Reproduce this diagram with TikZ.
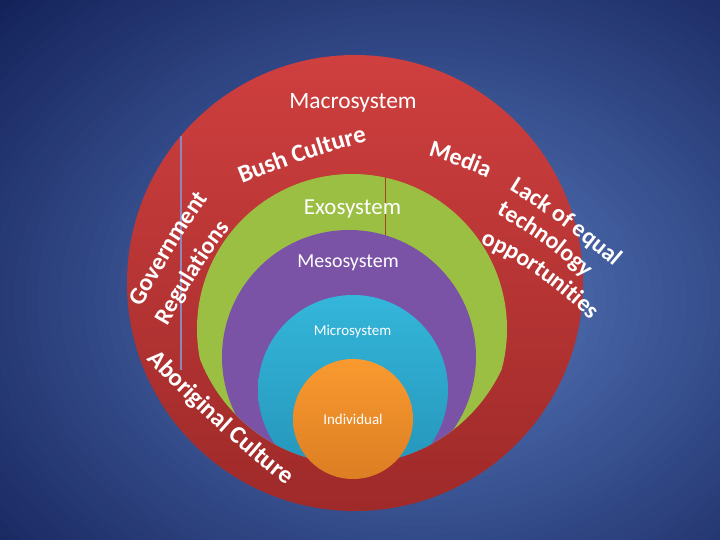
\documentclass[tikz,border=0pt]{standalone}
\usepackage{fontspec}
\newfontfamily\carlito{Carlito}
\usetikzlibrary{decorations.text}
\definecolor{bgA}{HTML}{5A7DC2}
\definecolor{bgC}{HTML}{14225A}
\definecolor{redTop}{HTML}{CF3F3F}
\definecolor{redBot}{HTML}{9E2A29}
\definecolor{greenC}{HTML}{9BBF42}
\definecolor{purpleC}{HTML}{7A53A6}
\definecolor{cyanTop}{HTML}{34B6DA}
\definecolor{cyanBot}{HTML}{2493B8}
\definecolor{orTop}{HTML}{F99A30}
\definecolor{orBot}{HTML}{DC7E22}
\definecolor{lineA}{HTML}{8E86BC}
\definecolor{lineB}{HTML}{A3441F}
\newcommand\cfont[1]{\carlito\bfseries\fontsize{#1}{#1}\selectfont\color{white}}
\tikzset{
  lbl/.style={text=white, anchor=base, inner sep=0pt},
}
\begin{document}
\begin{tikzpicture}[x=1bp,y=-1bp]
\useasboundingbox (0,0) rectangle (720,540);
% background radial gradient
\fill[bgC] (0,0) rectangle (720,540);
\begin{scope}
  \clip (0,0) rectangle (720,540);
  \foreach \i in {0,...,49} {
    \pgfmathsetmacro\rr{580*(1-\i/50)}
    \pgfmathsetmacro\pp{100*\i/50}
    \fill[bgA!\pp!bgC] (420,300) ellipse[x radius=\rr, y radius=0.75*\rr];
  }
\end{scope}
% macrosystem
\shade[top color=redTop, bottom color=redBot] (355,283) circle[radius=228];
\draw[lineA, line width=1.2bp] (181,136) -- (181,370);
\begin{scope}
  \clip (353,300) circle[radius=164];
  \fill[greenC] (352,329) circle[radius=155];
  \draw[lineB, line width=1bp] (385,177) -- (385,236);
  \fill[purpleC] (349,357) circle[radius=127];
  \shade[top color=cyanTop, bottom color=cyanBot] (353,390) circle[radius=95];
\end{scope}
\shade[top color=orTop, bottom color=orBot] (353,419) circle[radius=60];
% straight labels
\node[lbl, font=\carlito\fontsize{23.5}{23.5}\selectfont] (macro) at (353,109) {Macrosystem};
\node[lbl, font=\carlito\fontsize{23}{23}\selectfont] (exo) at (352.5,215) {Exosystem};
\node[lbl, font=\carlito\fontsize{20}{20}\selectfont] (meso) at (348,268) {Mesosystem};
\node[lbl, font=\carlito\fontsize{15}{15}\selectfont] (micro) at (352.5,335) {Microsystem};
\node[lbl, font=\carlito\fontsize{15}{15}\selectfont] (indiv) at (353,424) {Individual};
% curved labels
\path[decorate, decoration={text along path, text={|\cfont{25}|Bush Culture}}]
  (242,184) .. controls (282,168) and (322,152) .. (385,137);
\path[decorate, decoration={text along path, text={|\cfont{24}|Media}}]
  (428,156) .. controls (449,162) and (472,170) .. (503,185);
\path[decorate, decoration={text along path, text={|\cfont{24}|Lack of equal}}]
  (509,190) .. controls (545,212) and (585,240) .. (635,285);
\path[decorate, decoration={text along path, text={|\cfont{24}|technology}}]
  (496,214) .. controls (530,233) and (558,252) .. (600,292);
\path[decorate, decoration={text along path, text={|\cfont{24}|opportunities}}]
  (480,244) .. controls (517,259) and (562,289) .. (605,335);
\path[decorate, decoration={text along path, text={|\cfont{24.5}|Government}}]
  (141,307) .. controls (162,271) and (186,227) .. (222,180);
\path[decorate, decoration={text along path, text={|\cfont{24}|Regulations}}]
  (167,326) .. controls (188,290) and (204,259) .. (242,214);
\path[decorate, decoration={text along path, text={|\cfont{25}|Aboriginal Culture}}]
  (147,359) .. controls (176,391) and (246,457) .. (305,500);
\end{tikzpicture}
\end{document}
